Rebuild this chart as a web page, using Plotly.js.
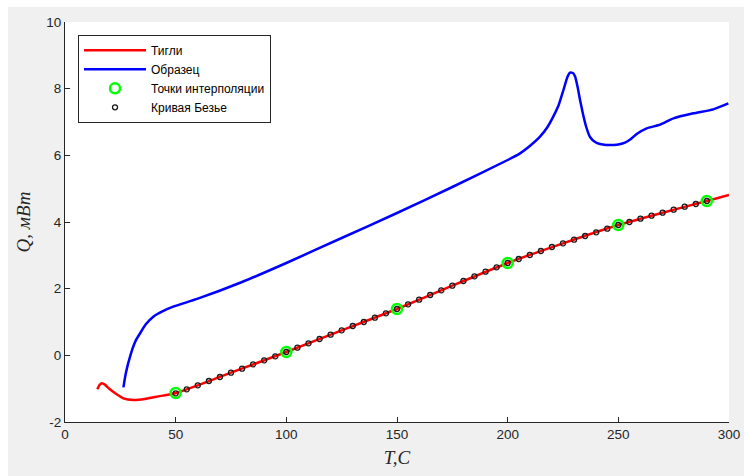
<!DOCTYPE html>
<html>
<head>
<meta charset="utf-8">
<script src="https://cdn.plot.ly/plotly-3.0.1.min.js"></script>
<style>
html,body{margin:0;padding:0;background:#ffffff;}
#wrap{position:relative;width:744px;height:476px;background:#ffffff;overflow:hidden;}
#chart{position:absolute;left:8px;top:7px;width:736px;height:469px;}
</style>
</head>
<body>
<div id="wrap"><div id="chart"></div></div>
<script>
// Crucible (Тигли) curve
const crucibleT = [14.6, 15.5, 16.6, 18, 20, 23, 26.4, 30.9, 36, 41.4, 49.8, 60, 75, 100, 125, 150, 175, 200, 225, 250, 270, 290, 300];
const crucibleQ = [-1.02, -0.9, -0.84, -0.88, -1.0, -1.15, -1.29, -1.34, -1.31, -1.24, -1.14, -0.9, -0.52, 0.1, 0.75, 1.39, 2.09, 2.77, 3.36, 3.91, 4.28, 4.63, 4.81];

// Sample (Образец) curve
const sampleT = [26.4, 27.3, 28.3, 29.4, 30.6, 32, 33.9, 36.5, 39.9, 44, 48.9, 60, 80, 100, 125, 150, 175, 200, 205.6, 210, 214.6, 218, 220.6, 223, 225.2, 227, 228.2, 229.5, 230.5, 231.6, 232.7, 234, 235.5, 237.2, 239.5, 241.7, 244.5, 247.8, 250.5, 253, 255.5, 258.3, 262.8, 268.9, 274.9, 283.9, 292.9, 299.7];
const sampleQ = [-0.96, -0.6, -0.3, -0.04, 0.22, 0.45, 0.66, 0.93, 1.16, 1.32, 1.46, 1.7, 2.2, 2.77, 3.52, 4.27, 5.05, 5.86, 6.06, 6.28, 6.56, 6.85, 7.16, 7.5, 7.96, 8.35, 8.48, 8.47, 8.36, 8.05, 7.66, 7.25, 6.85, 6.55, 6.4, 6.34, 6.31, 6.31, 6.33, 6.38, 6.48, 6.64, 6.81, 6.92, 7.11, 7.26, 7.38, 7.56];

// Interpolation points (Точки интерполяции)
const interpT = [50, 100, 150, 200, 250, 290];
const interpQ = [-1.13, 0.1, 1.39, 2.77, 3.91, 4.63];

// Bezier curve points (Кривая Безье)
const bezierT = [50,55,60,65,70,75,80,85,90,95,100,105,110,115,120,125,130,135,140,145,150,155,160,165,170,175,180,185,190,195,200,205,210,215,220,225,230,235,240,245,250,255,260,265,270,275,280,285,290];
const bezierQ = [-1.14,-1.02,-0.90,-0.77,-0.65,-0.52,-0.40,-0.27,-0.15,-0.03,0.10,0.23,0.36,0.49,0.62,0.75,0.88,1.00,1.13,1.26,1.39,1.53,1.67,1.81,1.95,2.09,2.23,2.37,2.51,2.64,2.77,2.89,3.01,3.13,3.25,3.36,3.47,3.58,3.69,3.80,3.91,4.00,4.10,4.19,4.28,4.37,4.46,4.54,4.63];

const xTicks = [0, 50, 100, 150, 200, 250, 300];
const xTickText = ['0', '50', '100', '150', '200', '250', '300'];
const yTicks = [-2, 0, 2, 4, 6, 8, 10];
const yTickText = ['-2', '0', '2', '4', '6', '8', '10'];

const traces = [
  {x: crucibleT, y: crucibleQ, type: 'scatter', mode: 'lines', name: 'Тигли',
   line: {color: '#ff0000', width: 2.5, shape: 'spline', smoothing: 0.5}},
  {x: sampleT, y: sampleQ, type: 'scatter', mode: 'lines', name: 'Образец',
   line: {color: '#0000ff', width: 2.5, shape: 'spline', smoothing: 0.5}},
  {x: interpT, y: interpQ, type: 'scatter', mode: 'markers', name: 'Точки интерполяции',
   marker: {symbol: 'circle-open', size: 10, color: '#00ff00', line: {width: 2.5, color: '#00ff00'}}},
  {x: bezierT, y: bezierQ, type: 'scatter', mode: 'markers', name: 'Кривая Безье',
   marker: {symbol: 'circle-open', size: 5, color: '#1a1a1a', line: {width: 1.3, color: '#1a1a1a'}}}
];

const axisFont = {family: 'Liberation Sans, Arial, sans-serif', size: 13.5, color: '#262626'};
const titleFont = {family: 'Liberation Serif, Times New Roman, serif', size: 19, color: '#262626', style: 'italic'};

const layout = {
  width: 736, height: 469,
  margin: {l: 57, r: 15, t: 15, b: 54, pad: 0},
  paper_bgcolor: '#f0f0f0',
  plot_bgcolor: '#ffffff',
  showlegend: true,
  legend: {
    x: 0.0196, y: 0.968, xanchor: 'left', yanchor: 'top',
    bgcolor: '#ffffff', bordercolor: '#262626', borderwidth: 1,
    font: {family: 'Liberation Sans, Arial, sans-serif', size: 12, color: '#000000'},
    tracegroupgap: 0, itemwidth: 62
  },
  xaxis: {
    range: [0, 300], tickvals: xTicks, ticktext: xTickText,
    ticks: 'inside', ticklen: 5, tickcolor: '#262626', tickwidth: 1,
    showline: true, linecolor: '#262626', linewidth: 1,
    showgrid: false, zeroline: false, mirror: false,
    tickfont: axisFont,
    title: {text: 'T,C', font: titleFont, standoff: 9}
  },
  yaxis: {
    range: [-2, 10], tickvals: yTicks, ticktext: yTickText,
    ticks: 'inside', ticklen: 5, tickcolor: '#262626', tickwidth: 1,
    showline: true, linecolor: '#262626', linewidth: 1,
    showgrid: false, zeroline: false, mirror: false,
    tickfont: axisFont,
    title: {text: 'Q, мВт', font: titleFont, standoff: 10}
  }
};

Plotly.newPlot('chart', traces, layout, {displayModeBar: false, staticPlot: true});
</script>
</body>
</html>
